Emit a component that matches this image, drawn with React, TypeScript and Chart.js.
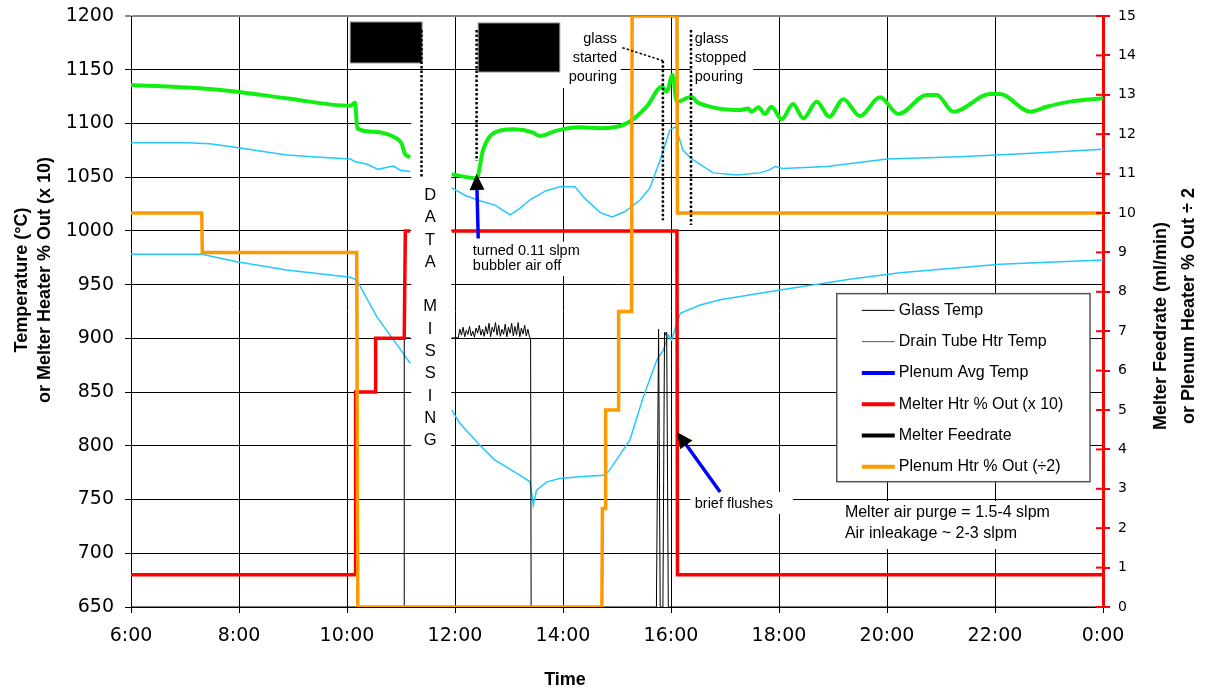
import React, { useEffect, useRef } from "react";
import { Chart, registerables } from "chart.js";
Chart.register(...registerables);

// x values are hours (6 = 6:00 ... 24 = 0:00 next day); null = data missing
const xTickHours = [6, 8, 10, 12, 14, 16, 18, 20, 22, 24];

// Plenum Avg Temp (drawn green, left axis, °C)
const plenumAvgTemp: [number, number | null][] = [
  [6.0, 1135.8], [7.28, 1132.7], [7.96, 1129.6], [8.88, 1123.4], [10.06, 1116.5], [10.15, 1119.3],
  [10.19, 1095.5], [10.48, 1092.3], [10.92, 1086], [11.01, 1081.5], [11.07, 1072], [11.17, 1068.5],
  [11.5, null],
  [11.94, 1052.7], [12.4, 1049], [12.52, 1075.3], [12.71, 1090.8], [13.08, 1094.5], [13.45, 1091.4],
  [13.57, 1088.3], [13.88, 1093.3], [14.31, 1096.4], [14.69, 1095.5], [15.18, 1100.1], [15.55, 1115.6],
  [15.83, 1134.2], [15.92, 1129.6], [16.03, 1145.1], [16.11, 1120.3], [16.38, 1124.9], [16.48, 1120],
  [16.72, 1115.6], [16.97, 1113.2], [17.28, 1112.5], [17.43, 1114], [17.49, 1111], [17.62, 1115],
  [17.74, 1108.8], [17.86, 1115.6], [18.05, 1103.9], [18.26, 1118.1], [18.45, 1104.8], [18.7, 1120.3],
  [18.93, 1106.3], [19.19, 1122.5], [19.5, 1106.9], [19.87, 1124.3], [20.21, 1108.8], [20.74, 1126.5],
  [20.92, 1126.5], [21.23, 1111], [21.91, 1127.4], [22.09, 1127.4], [22.65, 1111], [22.96, 1115.6],
  [23.39, 1120.3], [24.0, 1123.4],
];

// Glass Temp (drawn cyan, upper)
const glassTemp: [number, number | null][] = [
  [6.0, 1082], [7.03, 1082], [7.46, 1081], [7.96, 1077.7], [8.88, 1070.6], [9.5, 1068.5], [10.06, 1067],
  [10.15, 1064.4], [10.36, 1062.3], [10.58, 1057.3], [10.74, 1059.2], [10.86, 1060.4], [10.98, 1056.7],
  [11.17, 1055],
  [11.5, null],
  [11.94, 1040], [12.19, 1033], [12.46, 1028], [12.74, 1024], [13.02, 1015], [13.2, 1021], [13.39, 1029],
  [13.67, 1037], [13.94, 1041], [14.22, 1041], [14.41, 1030], [14.69, 1017], [14.91, 1013], [15.15, 1018],
  [15.43, 1029], [15.61, 1040], [15.8, 1066], [15.98, 1094], [16.09, 1097], [16.22, 1075], [16.41, 1066],
  [16.78, 1054], [17.22, 1052], [17.65, 1054], [17.83, 1057], [17.93, 1060], [18.07, 1058], [18.89, 1060],
  [20.0, 1067], [21.35, 1069], [22.59, 1072], [24.0, 1076],
];

// Drain Tube Htr Temp (drawn cyan, lower)
const drainTubeTemp: [number, number | null][] = [
  [6.0, 978.2], [7.31, 978.2], [7.96, 971.4], [8.88, 963.6], [10.06, 956.8], [10.18, 954.3],
  [10.55, 920.2], [11.04, 886], [11.17, 876.8],
  [11.5, null],
  [11.94, 833.3], [12.09, 820.9], [12.46, 800.6], [12.74, 786.7], [13.2, 772.7], [13.39, 766.5],
  [13.45, 744.8], [13.51, 758.8], [13.7, 766.5], [13.94, 769.6], [14.31, 771.2], [14.75, 772.7],
  [14.84, 775.8], [15.24, 805.6], [15.49, 846], [15.74, 880], [15.86, 889.2], [15.95, 903.2],
  [16.01, 898.5], [16.07, 907.8], [16.17, 923.3], [16.54, 931], [16.91, 936], [18.02, 945],
  [19.31, 955], [20.24, 961], [22.09, 969], [24.0, 973],
];

// Melter Htr % Out (x 10), left axis
const melterHtr: [number, number | null][] = [
  [6, 680], [10.15, 680], [10.16, 850], [10.52, 850], [10.53, 900], [11.06, 900], [11.08, 1000],
  [11.17, 1000], [11.5, null], [11.94, 1000], [16.11, 1000], [16.12, 680], [24, 680],
];

// Melter Feedrate (ml/min), right axis
const melterFeedrate: [number, number | null][] = [
  [6, 0], [11.06, 0], [11.06, 6.83], [11.17, 6.83], [11.5, null],
  [11.94, 6.83], [11.97, 6.83], [12.0, 6.83], [12.03, 6.84], [12.06, 6.83], [12.09, 7.05], [12.12, 6.9],
  [12.15, 7.1], [12.18, 6.86], [12.21, 7.02], [12.24, 6.92], [12.27, 7.12], [12.3, 6.88], [12.33, 7.0],
  [12.36, 6.85], [12.39, 7.08], [12.42, 6.95], [12.45, 7.15], [12.48, 6.9], [12.51, 7.05], [12.54, 6.87],
  [12.57, 7.12], [12.6, 6.93], [12.63, 7.2], [12.66, 6.86], [12.69, 7.1], [12.72, 6.98], [12.75, 7.22],
  [12.78, 6.9], [12.81, 7.15], [12.84, 6.87], [12.87, 7.05], [12.9, 6.92], [12.93, 7.18], [12.96, 6.86],
  [12.99, 7.1], [13.02, 6.95], [13.05, 7.2], [13.08, 6.88], [13.11, 7.12], [13.14, 6.9], [13.17, 7.22],
  [13.2, 6.86], [13.23, 7.08], [13.26, 6.93], [13.29, 7.15], [13.32, 6.88], [13.35, 7.05], [13.38, 6.85],
  [13.4, 6.83], [13.41, 0],
  [15.73, 0], [15.77, 7.05], [15.8, 0], [15.85, 0], [15.88, 6.98], [15.9, 6.9], [15.92, 6.98], [15.95, 0],
  [24, 0],
];

// Plenum Htr % Out (÷2), right axis
const plenumHtr: [number, number | null][] = [
  [6, 10], [7.31, 10], [7.32, 9], [10.18, 9], [10.2, 0], [14.72, 0], [14.73, 2.5], [14.78, 2.5],
  [14.79, 5], [15.02, 5], [15.03, 7.5], [15.27, 7.5], [15.28, 15], [16.11, 15], [16.12, 10], [24, 10],
];

const legendLabels = [
  "Glass Temp",
  "Drain Tube Htr Temp",
  "Plenum Avg Temp",
  "Melter Htr % Out (x 10)",
  "Melter Feedrate",
  "Plenum Htr % Out (÷2)",
];
const legendColors = ["#000000", "#555555", "#0000ff", "#ff0000", "#000000", "#ff9900"];
const legendWidths = [1, 1, 4, 4, 4, 4];

const dataMissingLetters = ["D", "A", "T", "A", "", "M", "I", "S", "S", "I", "N", "G"];

const toPts = (arr: [number, number | null][]) => arr.map(([x, y]) => ({ x, y }));

const SANS = '"Liberation Sans", Arial, sans-serif';

const zeroPad = (s: any) => {
  s.paddingTop = 0;
  s.paddingBottom = 0;
  s.paddingLeft = 0;
  s.paddingRight = 0;
};

const overlayPlugin = {
  id: "overlay",
  beforeDatasetsDraw(chart: any) {
    const { ctx } = chart;
    const xs = chart.scales.x;
    const ys = chart.scales.y;
    const X = (h: number) => xs.getPixelForValue(h);
    const Y = (v: number) => ys.getPixelForValue(v);
    ctx.save();
    ctx.fillStyle = "#ffffff";
    const rect = (h1: number, v1: number, h2: number, v2: number) =>
      ctx.fillRect(X(h1), Y(v1), X(h2) - X(h1), Y(v2) - Y(v1));
    rect(11.19, 1146, 11.93, 790);
    rect(13.87, 1199, 15.07, 1133);
    rect(16.36, 1199, 17.52, 1133);
    rect(16.36, 757, 18.26, 736.5);
    rect(19.11, 748.6, 23.78, 704);
    rect(12.36, 990, 14.5, 958);
    ctx.restore();
  },
  afterDatasetsDraw(chart: any) {
    const { ctx } = chart;
    const xs = chart.scales.x;
    const ys = chart.scales.y;
    const y2 = chart.scales.y2;
    const X = (h: number) => xs.getPixelForValue(h);
    const Y = (v: number) => ys.getPixelForValue(v);
    ctx.save();

    // redaction boxes
    ctx.fillStyle = "#000";
    ctx.strokeStyle = "#888";
    ctx.lineWidth = 1;
    const box = (h1: number, v1: number, h2: number, v2: number) => {
      ctx.fillRect(X(h1), Y(v1), X(h2) - X(h1), Y(v2) - Y(v1));
      ctx.strokeRect(X(h1), Y(v1), X(h2) - X(h1), Y(v2) - Y(v1));
    };
    box(10.06, 1194.4, 11.39, 1156.3);
    box(12.43, 1193.5, 13.94, 1147.9);

    // dotted lines
    ctx.strokeStyle = "#000";
    ctx.lineWidth = 2.5;
    ctx.setLineDash([2.5, 2]);
    const poly = (pts: [number, number][]) => {
      ctx.beginPath();
      pts.forEach(([h, v], i) => (i ? ctx.lineTo(X(h), Y(v)) : ctx.moveTo(X(h), Y(v))));
      ctx.stroke();
    };
    poly([[11.38, 1187], [11.38, 1050.5]]);
    poly([[12.4, 1187], [12.4, 1065]]);
    poly([[15.85, 1158.4], [15.85, 1010]]);
    poly([[16.37, 1187], [16.37, 1005.5]]);
    ctx.lineWidth = 1.5;
    poly([[15.1, 1170.5], [15.85, 1158.4]]);
    ctx.setLineDash([]);

    // arrows
    const arrow = (h1: number, v1: number, h2: number, v2: number) => {
      const x1 = X(h1), yy1 = Y(v1), x2 = X(h2), yy2 = Y(v2);
      const dx = x2 - x1, dy = yy2 - yy1;
      const len = Math.hypot(dx, dy);
      const ux = dx / len, uy = dy / len;
      const hl = 16, hw = 7.5;
      const bx = x2 - ux * hl, by = yy2 - uy * hl;
      ctx.strokeStyle = "#0000ff";
      ctx.lineWidth = 3.5;
      ctx.beginPath();
      ctx.moveTo(x1, yy1);
      ctx.lineTo(bx + ux * 2, by + uy * 2);
      ctx.stroke();
      ctx.fillStyle = "#000";
      ctx.beginPath();
      ctx.moveTo(x2, yy2);
      ctx.lineTo(bx - uy * hw, by + ux * hw);
      ctx.lineTo(bx + uy * hw, by - ux * hw);
      ctx.closePath();
      ctx.fill();
    };
    arrow(12.43, 993, 12.4, 1053);
    arrow(16.91, 757, 16.11, 812.9);

    // annotation text
    const text = (s: string, h: number, v: number, align: string, font: string) => {
      ctx.font = font;
      ctx.textAlign = align;
      ctx.textBaseline = "middle";
      ctx.fillStyle = "#000";
      ctx.fillText(s, X(h), Y(v));
    };
    const f14 = `14.5px ${SANS}`;
    const f16 = `16px ${SANS}`;
    text("turned 0.11 slpm", 12.33, 981.3, "left", f14);
    text("bubbler air off", 12.33, 967.3, "left", f14);
    text("glass", 15.0, 1178.3, "right", f14);
    text("started", 15.0, 1160.6, "right", f14);
    text("pouring", 15.0, 1143.6, "right", f14);
    text("glass", 16.44, 1178.3, "left", f14);
    text("stopped", 16.44, 1160.6, "left", f14);
    text("pouring", 16.44, 1143.6, "left", f14);
    text("brief flushes", 16.44, 745.9, "left", f14);
    text("Melter air purge = 1.5-4 slpm", 19.22, 737.8, "left", f16);
    text("Air inleakage ~ 2-3 slpm", 19.22, 718.6, "left", f16);

    // DATA MISSING
    ctx.font = `16.5px ${SANS}`;
    ctx.textAlign = "center";
    ctx.textBaseline = "middle";
    const dmTop = Y(1033);
    dataMissingLetters.forEach((c, i) => {
      if (c) ctx.fillText(c, X(11.54), dmTop + i * 22.3);
    });

    // legend
    const lx1 = X(19.07), lx2 = X(23.76);
    const ly1 = Y(941.6), ly2 = Y(766.6);
    ctx.fillStyle = "#fff";
    ctx.fillRect(lx1, ly1, lx2 - lx1, ly2 - ly1);
    ctx.strokeStyle = "#555";
    ctx.lineWidth = 1.5;
    ctx.strokeRect(lx1, ly1, lx2 - lx1, ly2 - ly1);
    ctx.font = `16px ${SANS}`;
    ctx.textAlign = "left";
    ctx.textBaseline = "middle";
    legendLabels.forEach((lab, i) => {
      const yy = ly1 + 16.7 + i * 31.3;
      ctx.strokeStyle = legendColors[i];
      ctx.lineWidth = legendWidths[i];
      ctx.beginPath();
      ctx.moveTo(lx1 + 25, yy);
      ctx.lineTo(lx1 + 58, yy);
      ctx.stroke();
      ctx.fillStyle = "#000";
      ctx.fillText(lab, lx1 + 62, yy);
    });

    // inner red ticks on right axis
    ctx.strokeStyle = "#ff0000";
    ctx.lineWidth = 2;
    for (let v = 0; v <= 15; v++) {
      const py = y2.getPixelForValue(v);
      ctx.beginPath();
      ctx.moveTo(y2.left - 7, py);
      ctx.lineTo(y2.left, py);
      ctx.stroke();
    }
    ctx.restore();
  },
  afterDraw(chart: any) {
    const { ctx } = chart;
    ctx.save();
    ctx.fillStyle = "#000";
    ctx.textAlign = "center";
    ctx.textBaseline = "middle";
    ctx.font = `bold 18px ${SANS}`;
    const vt = (s: string, x: number, y: number) => {
      ctx.save();
      ctx.translate(x, y);
      ctx.rotate(-Math.PI / 2);
      ctx.fillText(s, 0, 0);
      ctx.restore();
    };
    vt("Temperature (°C)", 22, 280);
    vt("or Melter Heater % Out (x 10)", 45, 280);
    vt("Melter Feedrate (ml/min)", 1161, 326);
    vt("or Plenum Heater % Out ÷ 2", 1189, 306);
    ctx.fillText("Time", 565, 680);
    ctx.restore();
  },
};

export default function App() {
  const ref = useRef<HTMLCanvasElement>(null);
  useEffect(() => {
    if (!ref.current) return;
    const chart = new Chart(ref.current, {
      type: "line",
      data: {
        datasets: [
          { label: "Plenum Htr % Out (÷2)", data: toPts(plenumHtr), yAxisID: "y2", borderColor: "#ff9900", borderWidth: 3.5, spanGaps: false },
          { label: "Melter Htr % Out (x 10)", data: toPts(melterHtr), yAxisID: "y", borderColor: "#ff0000", borderWidth: 3.5, spanGaps: false },
          { label: "Melter Feedrate", data: toPts(melterFeedrate), yAxisID: "y2", borderColor: "#000000", borderWidth: 1, spanGaps: false },
          { label: "Plenum Avg Temp", data: toPts(plenumAvgTemp), yAxisID: "y", borderColor: "#11ee11", borderWidth: 4, cubicInterpolationMode: "monotone", spanGaps: false },
          { label: "Glass Temp", data: toPts(glassTemp), yAxisID: "y", borderColor: "#22c8ff", borderWidth: 1.5, spanGaps: false },
          { label: "Drain Tube Htr Temp", data: toPts(drainTubeTemp), yAxisID: "y", borderColor: "#22c8ff", borderWidth: 1.5, spanGaps: false },
        ] as any,
      },
      options: {
        responsive: false,
        animation: false,
        devicePixelRatio: 1,
        layout: { padding: { top: 16, left: 0, right: 0, bottom: 0 } },
        elements: { point: { radius: 0 }, line: { tension: 0 } },
        plugins: { legend: { display: false }, tooltip: { enabled: false } },
        scales: {
          x: {
            type: "linear",
            position: "bottom",
            min: 6,
            max: 24,
            afterFit: (s: any) => { s.height = 88; zeroPad(s); },
            afterBuildTicks: (s: any) => { s.ticks = xTickHours.map((v) => ({ value: v })); },
            ticks: {
              callback: (v: any) => `${Number(v) % 24}:00`,
              font: { family: '"DejaVu Sans", sans-serif', size: 19 },
              color: "#000",
              padding: 12,
              maxRotation: 0,
              autoSkip: false,
            },
            grid: { color: "#000", lineWidth: 1, tickLength: 6 },
            border: { color: "#000", width: 1 },
          },
          y: {
            type: "linear",
            position: "left",
            min: 650,
            max: 1200,
            afterFit: (s: any) => { s.width = 131; zeroPad(s); },
            ticks: {
              stepSize: 50,
              callback: (v: any) => String(v),
              font: { family: '"DejaVu Sans", sans-serif', size: 19 },
              color: "#000",
              padding: 11,
            },
            grid: {
              color: (c: any) => (c.tick && c.tick.value === 1200 ? "#888" : "#000"),
              lineWidth: (c: any) => (c.tick && c.tick.value === 1200 ? 2 : 1),
              tickLength: 6,
            },
            border: { color: "#000", width: 1 },
          },
          y2: {
            type: "linear",
            position: "right",
            min: 0,
            max: 15,
            afterFit: (s: any) => { s.width = 106; zeroPad(s); },
            ticks: {
              stepSize: 1,
              callback: (v: any) => String(v),
              font: { family: '"DejaVu Sans", sans-serif', size: 14 },
              color: "#000",
              padding: 8,
            },
            grid: { drawOnChartArea: false, color: "#ff0000", lineWidth: 2, tickLength: 7 },
            border: { color: "#ff0000", width: 3 },
          },
        },
      } as any,
      plugins: [overlayPlugin as any],
    });
    return () => chart.destroy();
  }, []);
  return (
    <div style={{ position: "fixed", left: 0, top: 0, width: 1209, height: 695, background: "#fff" }}>
      <canvas ref={ref} width={1209} height={695} style={{ width: 1209, height: 695, display: "block" }} />
    </div>
  );
}
